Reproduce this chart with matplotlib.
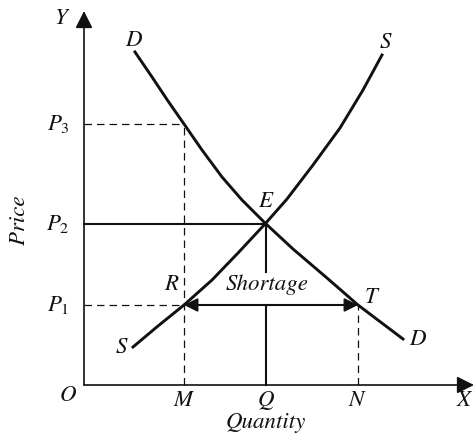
import matplotlib.pyplot as plt

plt.rcParams['mathtext.fontset'] = 'stix'
plt.rcParams['font.family'] = ['STIXGeneral', 'DejaVu Serif']

# Curve points (quantity, price)
demand_q = [51, 68, 84, 100, 118, 138, 158, 181, 209, 243, 274, 319]
demand_p = [333, 308, 284, 261, 235, 208, 185, 162, 136, 107, 80, 46]

supply_q = [49, 74, 100, 128, 154, 181, 203, 229, 256, 279, 298]
supply_p = [38, 59, 80, 105, 132, 161, 186, 220, 257, 295, 330]

# Marked quantities and prices
q_m, q_e, q_n = 100, 182, 274
p_1, p_2, p_3 = 80, 161, 261

fig = plt.figure(figsize=(4.75, 4.41), dpi=100)
ax = fig.add_axes([0, 0, 1, 1])
ax.set_xlim(-84, 391)
ax.set_ylim(-56, 385)
ax.axis('off')

fs = 16.5
black = '#111111'

# axes with arrows
ax.annotate('', xy=(0, 374), xytext=(0, 0),
            arrowprops=dict(arrowstyle='-|>', color=black, lw=1.2,
                            mutation_scale=26, shrinkA=0, shrinkB=0))
ax.annotate('', xy=(390, 0), xytext=(0, 0),
            arrowprops=dict(arrowstyle='-|>', color=black, lw=1.2,
                            mutation_scale=26, shrinkA=0, shrinkB=0))

# curves
ax.plot(demand_q, demand_p, color=black, lw=2.1, solid_joinstyle='round')
ax.plot(supply_q, supply_p, color=black, lw=2.1, solid_joinstyle='round')

# dashed guide lines
dash = dict(color=black, lw=0.9, linestyle=(0, (6, 4)))
ax.plot([0, q_m], [p_3, p_3], **dash)
ax.plot([q_m, q_m], [0, p_3], **dash)
ax.plot([0, q_m], [p_1, p_1], **dash)
ax.plot([q_n, q_n], [0, p_1], **dash)

# equilibrium lines
ax.plot([0, q_e], [p_2, p_2], color=black, lw=1.5)
ax.plot([q_e, q_e], [p_2, 113], color=black, lw=1.5)
ax.plot([q_e, q_e], [0, p_1], color=black, lw=1.5)

# shortage arrow
ax.annotate('', xy=(q_m, p_1), xytext=(q_n, p_1),
            arrowprops=dict(arrowstyle='<|-|>', color=black, lw=1.5,
                            mutation_scale=20, shrinkA=0, shrinkB=0))

# labels
def lab(x, y, s, **kw):
    ax.text(x, y, s, fontsize=fs, ha='center', va='center', color=black, **kw)

lab(-22, 367, r'$\mathit{Y}$')
lab(381, -15, r'$\mathit{X}$')
lab(-16, -10, r'$\mathit{O}$')
lab(q_m, -15, r'$\mathit{M}$')
lab(q_e, -15, r'$\mathit{Q}$')
lab(q_n, -15, r'$\mathit{N}$')
lab(q_e, -38, 'Quantity', style='italic')
lab(-64, 165, 'Price', style='italic', rotation=90)

lab(-26, p_3, r'$\mathit{P}_3$')
lab(-26, p_2, r'$\mathit{P}_2$')
lab(-26, p_1, r'$\mathit{P}_1$')

lab(50, 345, r'$\mathit{D}$')
lab(302, 343, r'$\mathit{S}$')
lab(q_e, 184, r'$\mathit{E}$')
lab(88, 101, r'$\mathit{R}$')
lab(q_e + 1, 100, 'Shortage', style='italic')
lab(288, 88, r'$\mathit{T}$')
lab(38, 38, r'$\mathit{S}$')
lab(334, 46, r'$\mathit{D}$')

fig.savefig('out.png', dpi=100)
